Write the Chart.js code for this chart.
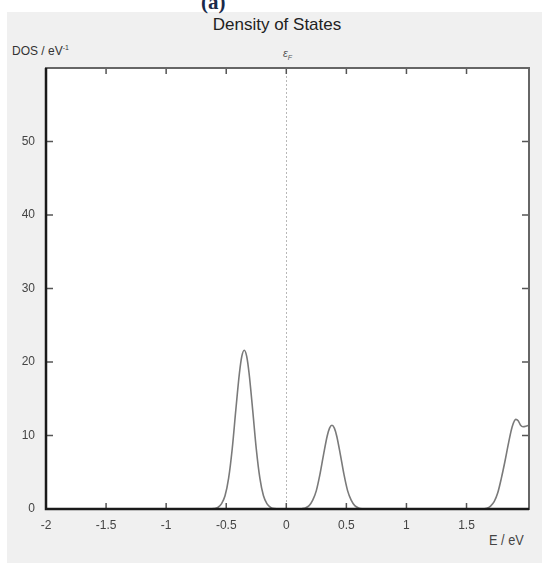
<!DOCTYPE html>
<html lang="en">
<head>
  <meta charset="UTF-8" />
  <title>Density of States</title>
  <script src="https://cdn.jsdelivr.net/npm/chart.js"></script>
  <style>
    html, body { margin: 0; padding: 0; background: #fff; }
    body { width: 542px; height: 563px; position: relative; overflow: hidden; }
    .panel { position: absolute; left: 7px; top: 12px; right: 0; bottom: 0; background: #f0f0f0; }
    .lbl { position: absolute; font-family: 'Liberation Sans Narrow', 'Liberation Sans', Arial, sans-serif; color: #333; white-space: nowrap; }
    #wrap { position: absolute; left: 0; top: 0; width: 542px; height: 563px; }
  </style>
</head>
<body>
  <div class="panel"></div>
  <div class="lbl" style="left:201px; top:-10px; font-family:'Liberation Serif', serif; font-weight:bold; font-size:21px; color:#1a2a4a;">(a)</div>
  <div class="lbl" style="left:0; width:554px; text-align:center; top:15px; font-family:'Liberation Sans', Arial, sans-serif; font-size:17px; color:#222;">Density of States</div>
  <div class="lbl" style="left:12px; top:44px; font-size:12px;">DOS / eV<sup style="font-size:7px;">-1</sup></div>
  <div class="lbl" style="left:283px; top:47px; font-size:11px; font-style:italic; color:#555;">ε<sub style="font-size:7px;">F</sub></div>
  <div class="lbl" style="left:489px; top:531px; font-size:15px; color:#444; transform:scaleX(0.85); transform-origin:left;">E / eV</div>

  <div id="wrap"><canvas id="dos" width="542" height="563"></canvas></div>

  <script>
    // values
    const energy = [-2.0, -1.5, -1.0, -0.8, -0.65, -0.6, -0.57, -0.54, -0.51, -0.48, -0.45, -0.42, -0.39, -0.37, -0.35,
      -0.33, -0.31, -0.28, -0.25, -0.22, -0.19, -0.16, -0.13, -0.1, 0.0, 0.1, 0.13, 0.16, 0.19, 0.22, 0.25, 0.28,
      0.31, 0.34, 0.36, 0.38, 0.40, 0.42, 0.45, 0.48, 0.51, 0.54, 0.57, 0.60, 0.63, 0.8, 1.0, 1.3, 1.5, 1.62,
      1.67, 1.70, 1.73, 1.76, 1.79, 1.82, 1.85, 1.88, 1.91, 1.93, 1.95, 1.97, 2.0, 2.02];
    const dos = [0, 0, 0, 0, 0, 0.05, 0.2, 0.7, 1.8, 4.2, 8.2, 13.5, 18.5, 20.8, 21.6,
      20.8, 18.5, 13.5, 8.2, 4.2, 1.8, 0.7, 0.2, 0.05, 0, 0, 0.04, 0.15, 0.46, 1.2, 2.5, 4.7,
      7.4, 9.9, 11.0, 11.4, 11.0, 9.9, 7.4, 4.7, 2.5, 1.2, 0.46, 0.15, 0.04, 0, 0, 0, 0, 0,
      0.1, 0.4, 1.0, 2.2, 4.2, 6.5, 9.0, 11.2, 12.2, 12.0, 11.4, 11.2, 11.3, 11.4];
    const xTicks = [-2, -1.5, -1, -0.5, 0, 0.5, 1, 1.5];
    const yTicks = [0, 10, 20, 30, 40, 50];
    const fermiLevel = 0;

    const points = energy.map((e, i) => ({ x: e, y: dos[i] }));
    const tickFont = { family: "'Liberation Sans Narrow', 'Liberation Sans', Arial, sans-serif", size: 12 };

    // white plot area, dotted fermi line, frame and inward ticks
    const frame = {
      id: 'frame',
      beforeDatasetsDraw(chart) {
        const { ctx, chartArea: a, scales } = chart;
        ctx.save();
        ctx.fillStyle = '#fff';
        ctx.fillRect(a.left, a.top, a.right - a.left, a.bottom - a.top);
        const fx = Math.round(scales.x.getPixelForValue(fermiLevel)) + 0.5;
        ctx.strokeStyle = '#b8b8b8';
        ctx.lineWidth = 1;
        ctx.setLineDash([2, 2]);
        ctx.beginPath();
        ctx.moveTo(fx, a.top);
        ctx.lineTo(fx, a.bottom);
        ctx.stroke();
        ctx.restore();
      },
      afterDatasetsDraw(chart) {
        const { ctx, chartArea: a, scales } = chart;
        ctx.save();
        ctx.strokeStyle = '#555';
        ctx.lineWidth = 1.5;
        xTicks.forEach(v => {
          const px = scales.x.getPixelForValue(v);
          ctx.beginPath();
          ctx.moveTo(px, a.bottom); ctx.lineTo(px, a.bottom - 6);
          ctx.moveTo(px, a.top); ctx.lineTo(px, a.top + 6);
          ctx.stroke();
        });
        yTicks.forEach(v => {
          const py = scales.y.getPixelForValue(v);
          ctx.beginPath();
          ctx.moveTo(a.left, py); ctx.lineTo(a.left + 7, py);
          ctx.moveTo(a.right, py); ctx.lineTo(a.right - 7, py);
          ctx.stroke();
        });
        ctx.strokeStyle = '#666';
        ctx.lineWidth = 2;
        ctx.strokeRect(a.left, a.top, a.right - a.left, a.bottom - a.top);
        ctx.strokeStyle = '#1a1a1a';
        ctx.lineWidth = 2.5;
        ctx.beginPath();
        ctx.moveTo(a.left, a.top);
        ctx.lineTo(a.left, a.bottom);
        ctx.lineTo(a.right, a.bottom);
        ctx.stroke();
        ctx.restore();
      }
    };

    new Chart(document.getElementById('dos'), {
      type: 'scatter',
      data: {
        datasets: [{
          data: points,
          showLine: true,
          borderColor: '#7a7a7a',
          borderWidth: 1.6,
          pointRadius: 0,
          cubicInterpolationMode: 'monotone',
          fill: false
        }]
      },
      options: {
        responsive: false,
        animation: false,
        maintainAspectRatio: false,
        layout: { padding: { left: 0, top: 68, right: 13, bottom: 0 } },
        plugins: { legend: { display: false }, tooltip: { enabled: false } },
        scales: {
          x: {
            type: 'linear',
            min: -2,
            max: 2.02,
            afterBuildTicks: s => { s.ticks = xTicks.map(v => ({ value: v })); },
            afterFit: s => { s.height = 54; },
            grid: { display: false, drawTicks: false },
            border: { display: false },
            ticks: { color: '#444', font: tickFont, padding: 9, maxRotation: 0, callback: v => String(v) }
          },
          y: {
            type: 'linear',
            min: 0,
            max: 60,
            afterBuildTicks: s => { s.ticks = yTicks.map(v => ({ value: v })); },
            afterFit: s => { s.width = 46; },
            grid: { display: false, drawTicks: false },
            border: { display: false },
            ticks: { color: '#444', font: tickFont, padding: 11, callback: v => String(v) }
          }
        }
      },
      plugins: [frame]
    });
  </script>
</body>
</html>
